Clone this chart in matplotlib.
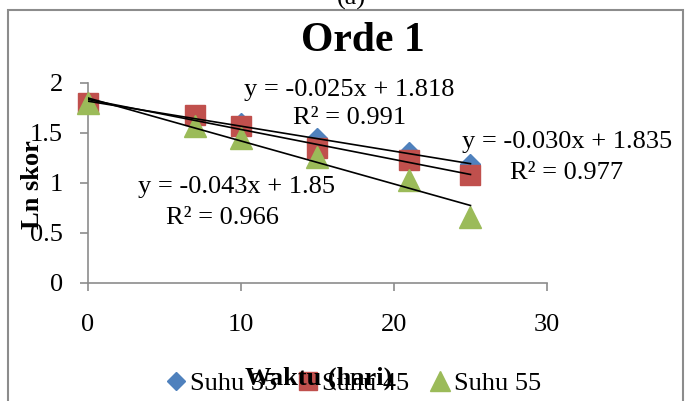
import matplotlib.pyplot as plt
import matplotlib.patches as mpatches
import numpy as np

plt.rcParams['font.family'] = ['Liberation Serif', 'DejaVu Serif']

# data
hari = [0, 7, 10, 15, 21, 25]
suhu35 = [1.80, 1.68, 1.60, 1.45, 1.31, 1.19]
suhu45 = [1.80, 1.68, 1.57, 1.35, 1.23, 1.08]
suhu55 = [1.80, 1.57, 1.45, 1.26, 1.03, 0.66]
labels = ['Suhu 35', 'Suhu 45', 'Suhu 55']

# trendline coefficients (slope, intercept) and R2
slopes = [-0.025, -0.030, -0.043]
intercepts = [1.818, 1.835, 1.85]
r2 = [0.991, 0.977, 0.966]

colors = ['#4F81BD', '#C0504D', '#9BBB59']
markers = ['D', 's', '^']
msizes = [10, 14, 16]

fig = plt.figure(figsize=(6.95, 4.01), dpi=100)
ax = fig.add_axes([0.1266, 0.2943, 0.6604, 0.4988])

# frame around chart
frame = mpatches.Rectangle((8 / 695, -0.05), 675 / 695, 1.05 - 10 / 401,
                           transform=fig.transFigure, fill=False,
                           ec='#8c8c8c', lw=1.5, clip_on=False)
fig.patches.append(frame)

fig.text(0.505, 1.003, '(a)', ha='center', va='center', fontsize=19)

series = [suhu35, suhu45, suhu55]
for ys, c, m, ms, lab in zip(series, colors, markers, msizes, labels):
    ax.plot(hari, ys, linestyle='none', marker=m, color=c, markersize=ms,
            label=lab, clip_on=False, zorder=3)

xs = np.array([hari[0], hari[-1]])
for a, b in zip(slopes, intercepts):
    ax.plot(xs, a * xs + b, color='black', lw=1.2, zorder=4)

# equation labels
fs = 19
ax.text(17.06, 1.93, 'y = -0.025x + 1.818', ha='center', va='center', fontsize=fs)
ax.text(17.1, 1.65, 'R² = 0.991', ha='center', va='center', fontsize=fs)
ax.text(31.3, 1.41, 'y = -0.030x + 1.835', ha='center', va='center', fontsize=fs,
        clip_on=False)
ax.text(31.3, 1.10, 'R² = 0.977', ha='center', va='center', fontsize=fs,
        clip_on=False)
ax.text(9.7, 0.96, 'y = -0.043x + 1.85', ha='center', va='center', fontsize=fs)
ax.text(8.8, 0.65, 'R² = 0.966', ha='center', va='center', fontsize=fs)

ax.set_xlim(0, 30)
ax.set_ylim(0, 2)
ax.set_xticks([0, 10, 20, 30])
ax.set_yticks([0, 0.5, 1, 1.5, 2])
ax.set_yticklabels(['0', '0.5', '1', '1.5', '2'])

for s in ['top', 'right']:
    ax.spines[s].set_visible(False)
for s in ['left', 'bottom']:
    ax.spines[s].set_color('#8c8c8c')
    ax.spines[s].set_linewidth(1.2)
ax.tick_params(axis='both', colors='#8c8c8c', labelcolor='black',
               labelsize=fs, length=6, width=1.2)
ax.tick_params(axis='x', pad=16)
ax.tick_params(axis='y', pad=12)

fig.text(0.522, 0.897, 'Orde 1', ha='center', va='center',
         fontsize=30, fontweight='bold')
fig.text(0.458, 0.057, 'Waktu (hari)', ha='center', va='center',
         fontsize=fs, fontweight='bold')
fig.text(0.047, 0.54, 'Ln skor', ha='center', va='center', rotation=90,
         fontsize=fs, fontweight='bold')

ax.legend(loc='center', bbox_to_anchor=(0.508, 0.043),
          bbox_transform=fig.transFigure, ncol=3, frameon=False,
          fontsize=fs, handlelength=0.8, handletextpad=0.15, columnspacing=0.75,
          markerscale=0.9, borderpad=0)

fig.savefig('out.png', dpi=100)
